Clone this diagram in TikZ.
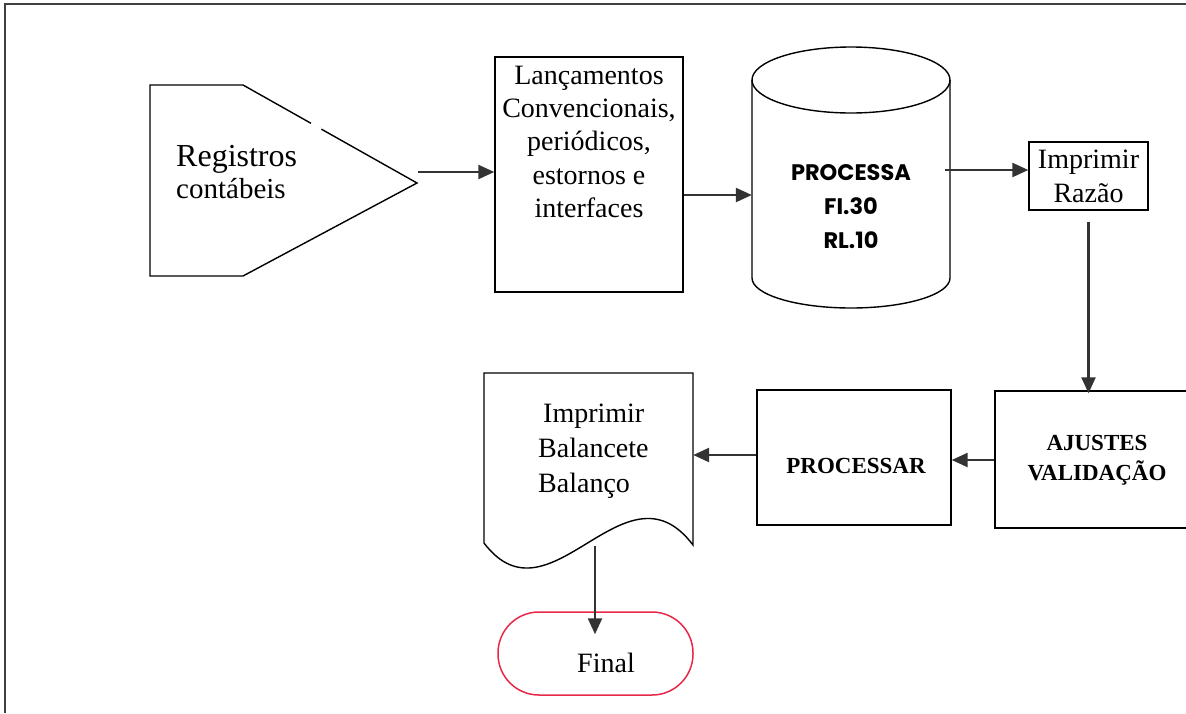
\documentclass[tikz,border=0pt]{standalone}
\usepackage{fontspec}
\setmainfont{Liberation Serif}
\newfontfamily\comicfont{Poppins Bold}
\usetikzlibrary{arrows.meta,calc}
\definecolor{termred}{RGB}{232,40,72}
\begin{document}
\begin{tikzpicture}[x=1pt,y=-1pt,
  shp/.style={draw, line width=1.4pt},
  arr/.style={line width=2.4pt, draw=black!80, -{Triangle[length=16pt,width=14pt]}},
  txt/.style={font=\fontsize{28}{32.5}\selectfont, align=center, inner sep=0pt},
  btxt/.style={font=\bfseries\fontsize{23}{30}\selectfont, align=center, inner sep=0pt}]
\useasboundingbox (0,0) rectangle (1186,713);
\draw[line width=2.5pt, black!75] (5,713) -- (5,4) -- (1186,4);

% off-page connector
\draw[shp] (150,85) -- (243,85) -- (417,183) -- (243,276) -- (150,276) -- cycle;
\draw[white, line width=3pt] (311,123.5) -- (321,129.5);
\node[txt, align=left, anchor=west] (reg) at (176,172) {{\fontsize{32}{35}\selectfont Registros}\\[-1pt]{\fontsize{29}{32}\selectfont contábeis}};
\coordinate (regout) at (418,172);

% Lancamentos box
\node[shp, minimum width=188pt, minimum height=235pt] (lanc) at (589,174.5) {};
\node[txt, font=\fontsize{28}{33.2}\selectfont, anchor=north] (lanct) at (589,66) {Lançamentos\\Convencionais,\\periódicos,\\estornos e\\interfaces};

% cylinder
\draw[shp] (851,80) ellipse[x radius=99pt, y radius=33pt];
\draw[shp] (752,80) -- (752,278) arc[start angle=180, end angle=360, x radius=99pt, y radius=30pt] -- (950,80);
\node[inner sep=0pt, minimum width=198pt, minimum height=260pt] (cyl) at (851,178) {};
\node[font=\comicfont\fontsize{22.5}{34}\selectfont, align=center, inner sep=0pt] (cylt) at (851,207) {PROCESSA\\FI.30\\RL.10};

% Imprimir Razao
\node[shp, txt, font=\fontsize{28}{34}\selectfont, minimum width=119pt, minimum height=68pt] (razao) at (1088.5,176) {Imprimir\\Razão};

% Ajustes
\node[shp, minimum width=200pt, minimum height=137pt] (ajust) at (1095,459.5) {};
\node[btxt] (ajustt) at (1097,460) {AJUSTES\\VALIDAÇÃO};

% Processar
\node[shp, minimum width=194pt, minimum height=135pt] (proc) at (854,457.5) {};
\node[btxt] (proct) at (856,466) {PROCESSAR};

% document
\draw[shp] (484,543) -- (484,373) -- (693,373) -- (693,545)
  .. controls (625,455) and (550,630) .. cycle;
\node[inner sep=0pt, minimum width=209pt, minimum height=172pt] (doc) at (588.5,459) {};
\node[txt, font=\fontsize{28}{35}\selectfont, align=left, anchor=north west] (doct) at (538,404) {\hspace{5pt}Imprimir\\Balancete\\Balanço};
\coordinate (docb) at (595,546);

% terminator
\node[draw=termred, line width=1.5pt, rounded corners=41pt, minimum width=195pt, minimum height=83pt] (final) at (595.5,653.5) {};
\node[txt] (finalt) at (606,663) {Final};

% connectors
\draw[arr] (regout) -- (lanc.west |- regout);
\draw[arr] (lanc.east |- 0,195) -- (cyl.west |- 0,195);
\draw[arr] ([xshift=-5pt]cyl.east |- 0,170) -- (razao.west |- 0,170);
\draw[arr, shorten <=11pt] (razao.south) -- ([yshift=-3pt]ajust.north -| razao.south);
\draw[arr] (ajust.west |- 0,460) -- (proc.east |- 0,460);
\draw[arr] (proc.west |- 0,455) -- (doc.east |- 0,455);
\draw[arr] (docb) -- ($(final.north -| docb)+(0,23)$);
\end{tikzpicture}
\end{document}
